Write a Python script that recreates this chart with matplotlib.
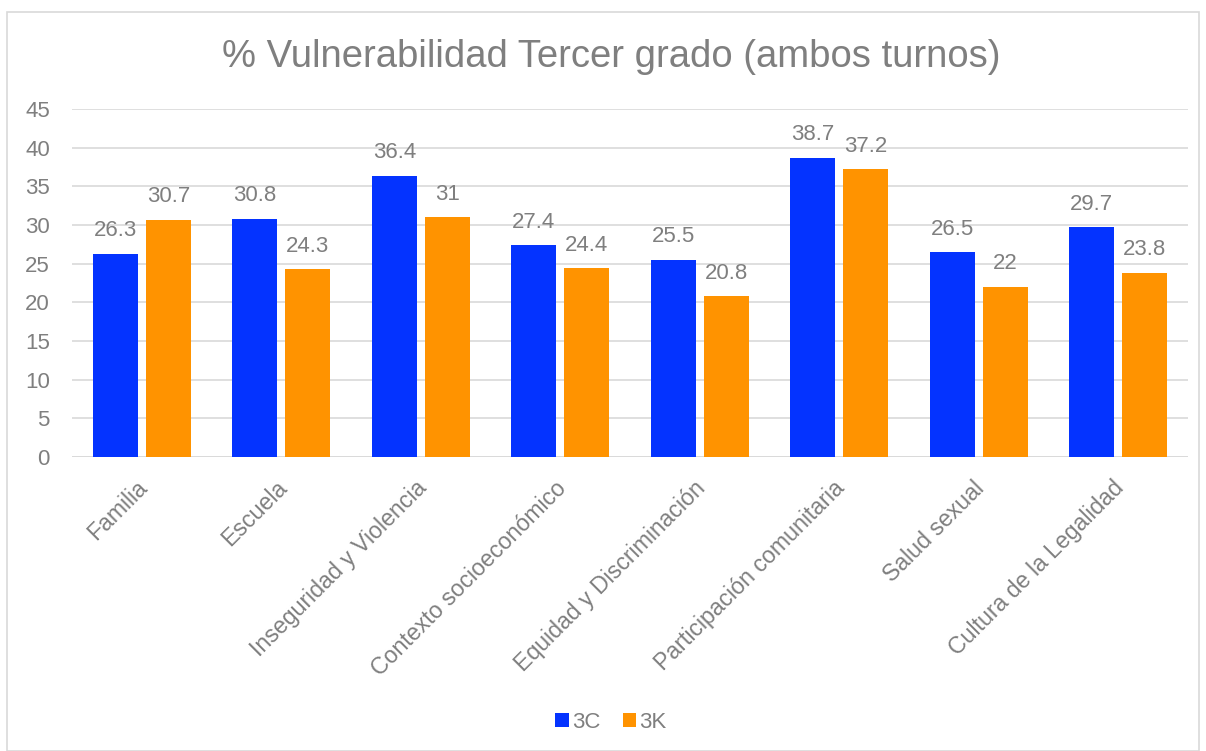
from matplotlib import pyplot as plt
from matplotlib.patches import Rectangle
import matplotlib.transforms as mtransforms
import numpy as np

CATEGORIES = ['Familia', 'Escuela', 'Inseguridad y Violencia', 'Contexto socioeconómico',
              'Equidad y Discriminación', 'Participación comunitaria', 'Salud sexual',
              'Cultura de la Legalidad']
VALUES_3C = [26.3, 30.8, 36.4, 27.4, 25.5, 38.7, 26.5, 29.7]
VALUES_3K = [30.7, 24.3, 31, 24.4, 20.8, 37.2, 22, 23.8]
LABELS_3C = ['26.3', '30.8', '36.4', '27.4', '25.5', '38.7', '26.5', '29.7']
LABELS_3K = ['30.7', '24.3', '31', '24.4', '20.8', '37.2', '22', '23.8']

BLUE = '#0433FF'
ORANGE = '#FF9300'
GRAY = '#7F7F7F'


def main():
    plt.rcParams['font.family'] = ['Liberation Sans', 'DejaVu Sans']
    fig = plt.figure(figsize=(12.06, 7.51), dpi=100)
    fig.patches.append(Rectangle((7 / 1206, 0), 1192 / 1206, 1 - 12 / 751, transform=fig.transFigure,
                                 fill=False, edgecolor='#D9D9D9', linewidth=1.2))

    ax = fig.add_axes([72 / 1206, 1 - 457 / 751, (1188 - 72) / 1206, (457 - 109) / 751])
    x = np.arange(len(CATEGORIES))
    width = 0.32
    off = 0.19
    b1 = ax.bar(x - off, VALUES_3C, width, color=BLUE, label='3C', zorder=3)
    b2 = ax.bar(x + off, VALUES_3K, width, color=ORANGE, label='3K', zorder=3)
    ax.bar_label(b1, labels=LABELS_3C, padding=9, color=GRAY, fontsize=16)
    ax.bar_label(b2, labels=LABELS_3K, padding=9, color=GRAY, fontsize=16)

    ax.set_xlim(-0.5, len(CATEGORIES) - 0.5)
    ax.set_ylim(0, 45)
    ax.set_yticks(range(0, 46, 5))
    ax.grid(axis='y', color='#D9D9D9', linewidth=1.2, zorder=0)
    for s in ax.spines.values():
        s.set_visible(False)
    ax.axhline(0, color='#D9D9D9', linewidth=1.2, zorder=1)
    ax.tick_params(axis='both', length=0, colors=GRAY, labelsize=16)
    ax.tick_params(axis='y', pad=16)
    ax.tick_params(axis='x', pad=14)
    ax.set_xticks(x)
    ax.set_xticklabels(CATEGORIES, rotation=45, ha='right', rotation_mode='anchor', fontsize=16.7)
    shift = mtransforms.ScaledTranslation(-6 / 100, 0, fig.dpi_scale_trans)
    for lab in ax.get_xticklabels():
        lab.set_transform(lab.get_transform() + shift)

    fig.text(611 / 1206, 1 - 57 / 751, '% Vulnerabilidad Tercer grado (ambos turnos)',
             ha='center', va='center', fontsize=27.5, color=GRAY)
    fig.legend(handles=[b1, b2], labels=['3C', '3K'], loc='center', bbox_to_anchor=(611 / 1206, 1 - 722 / 751),
               ncol=2, frameon=False, fontsize=16, labelcolor=GRAY, handlelength=0.6, handleheight=0.6,
               handletextpad=0.15, columnspacing=1.0)

    fig.savefig('out.png', dpi=100)


if __name__ == '__main__':
    main()
